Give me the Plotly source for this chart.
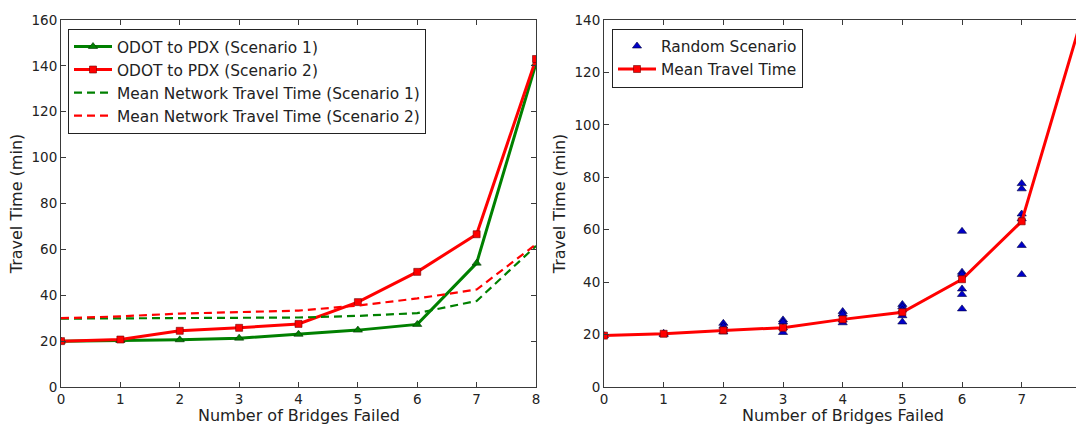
import plotly.graph_objects as go

# ---------------- data ----------------
bridges = [0, 1, 2, 3, 4, 5, 6, 7, 8]

odot_s1 = [20, 20.3, 20.6, 21.3, 23, 24.8, 27.3, 54, 141]
odot_s2 = [20, 20.7, 24.5, 25.8, 27.5, 37, 50.2, 66.6, 143]
mean_s1 = [29.8, 30, 30, 30.1, 30.3, 31, 32.2, 37.5, 61.5]
mean_s2 = [30, 30.8, 32, 32.7, 33.3, 35.5, 38.6, 42.5, 62.2]

rand_x = [0, 1, 1,
          2, 2, 2, 2,
          3, 3, 3, 3,
          4, 4, 4, 4,
          5, 5, 5, 5, 5,
          6, 6, 6, 6, 6, 6,
          7, 7, 7, 7, 7, 7]
rand_y = [19.6, 20.0, 20.5,
          24.3, 23.2, 21.0, 21.8,
          25.6, 24.8, 20.8, 22.6,
          28.8, 27.8, 24.5, 25.6,
          31.5, 30.6, 29.4, 27.2, 24.8,
          59.4, 43.8, 43.0, 37.4, 35.3, 29.8,
          77.6, 75.6, 66.0, 64.2, 54.0, 42.9]
mean_rand = [19.6, 20.3, 21.6, 22.6, 25.8, 28.5, 41.1, 63.2, 140]

left_ticks_y = [0, 20, 40, 60, 80, 100, 120, 140, 160]
right_ticks_y = [0, 20, 40, 60, 80, 100, 120, 140]
x_title = "Number of Bridges Failed"
y_title = "Travel Time (min)"

GREEN = "#008000"
RED = "#FF0000"
BLUE = "#0000C8"
AX = "#3a3a3a"
FONT = "DejaVu Sans"

W, H = 1076, 424
def px_x(p):
    return p / W
def px_y(p):
    return (H - p) / H

fig = go.Figure()

# ---------- left panel ----------
fig.add_trace(go.Scatter(
    x=bridges, y=odot_s1, mode="lines+markers", name="ODOT to PDX (Scenario 1)",
    line=dict(color=GREEN, width=3),
    marker=dict(symbol="triangle-up", size=8, color=GREEN, line=dict(color="#003000", width=0.6)),
    xaxis="x", yaxis="y", legend="legend", legendgroup="a"))
fig.add_trace(go.Scatter(
    x=bridges, y=odot_s2, mode="lines+markers", name="ODOT to PDX (Scenario 2)",
    line=dict(color=RED, width=3),
    marker=dict(symbol="square", size=7, color=RED, line=dict(color="#700000", width=0.6)),
    xaxis="x", yaxis="y", legend="legend", legendgroup="b"))
fig.add_trace(go.Scatter(
    x=bridges, y=mean_s1, mode="lines", name="Mean Network Travel Time (Scenario 1)",
    line=dict(color=GREEN, width=2.2, dash="8px,5px"),
    xaxis="x", yaxis="y", legend="legend", legendgroup="c"))
fig.add_trace(go.Scatter(
    x=bridges, y=mean_s2, mode="lines", name="Mean Network Travel Time (Scenario 2)",
    line=dict(color=RED, width=2.2, dash="8px,5px"),
    xaxis="x", yaxis="y", legend="legend", legendgroup="d"))

# ---------- right panel ----------
fig.add_trace(go.Scatter(
    x=rand_x, y=rand_y, mode="markers", name="Random Scenario",
    marker=dict(symbol="triangle-up", size=8, color=BLUE, line=dict(color="#000040", width=0.6)),
    xaxis="x2", yaxis="y2", legend="legend2", legendgroup="e"))
fig.add_trace(go.Scatter(
    x=bridges, y=mean_rand, mode="lines+markers", name="Mean Travel Time",
    line=dict(color=RED, width=3),
    marker=dict(symbol="square", size=7, color=RED, line=dict(color="#700000", width=0.6)),
    xaxis="x2", yaxis="y2", legend="legend2", legendgroup="f"))

axis_common = dict(
    showgrid=False, zeroline=False, showline=True, linecolor=AX, linewidth=1,
    ticks="inside", ticklen=5, tickcolor=AX, tickwidth=1, automargin=False,
    tickfont=dict(family=FONT, size=13.5, color="#222"),
)
title_font = dict(family=FONT, size=16, color="#222")

y0, y1 = px_y(387), px_y(20)
lx0, lx1 = px_x(61), px_x(536)
rx0, rx1 = px_x(604), 1.0

fig.update_layout(
    width=W, height=H,
    margin=dict(l=0, r=0, t=0, b=0, autoexpand=False),
    paper_bgcolor="white", plot_bgcolor="white",
    font=dict(family=FONT, color="#222"),
    xaxis=dict(domain=[lx0, lx1], range=[0, 8], tickvals=bridges,
               mirror="ticks", anchor="y", **axis_common),
    yaxis=dict(domain=[y0, y1], range=[0, 160], tickvals=left_ticks_y,
               mirror="ticks", anchor="x",
               title=dict(text=y_title, font=title_font, standoff=4),
               **axis_common),
    xaxis2=dict(domain=[rx0, rx1], range=[0, (1076 - 604) / 59.67], tickvals=bridges,
                mirror="ticks", anchor="y2", **axis_common),
    yaxis2=dict(domain=[y0, y1], range=[0, 140], tickvals=right_ticks_y,
                mirror=False, anchor="x2",
                title=dict(text=y_title, font=title_font, standoff=4),
                **axis_common),
    legend=dict(x=px_x(68), y=px_y(29), xanchor="left", yanchor="top",
                bgcolor="white", bordercolor="#222", borderwidth=1,
                font=dict(family=FONT, size=15.4, color="#222"),
                tracegroupgap=0, itemwidth=38),
    legend2=dict(x=px_x(612), y=px_y(28.5), xanchor="left", yanchor="top",
                 bgcolor="white", bordercolor="#222", borderwidth=1,
                 font=dict(family=FONT, size=15.4, color="#222"),
                 tracegroupgap=0, itemwidth=38),
    showlegend=True,
)

# x-axis titles placed as paper annotations just below the tick labels
for cx in [(lx0 + lx1) / 2, (rx0 + px_x(1081)) / 2]:
    fig.add_annotation(text=x_title, xref="paper", yref="paper",
                       x=cx, y=px_y(415), xanchor="center", yanchor="middle",
                       showarrow=False, font=title_font)

fig.write_html(
    "out.html",
    config={"displayModeBar": False},
    post_script="document.body.style.margin='0px';document.body.style.overflow='hidden';",
)
